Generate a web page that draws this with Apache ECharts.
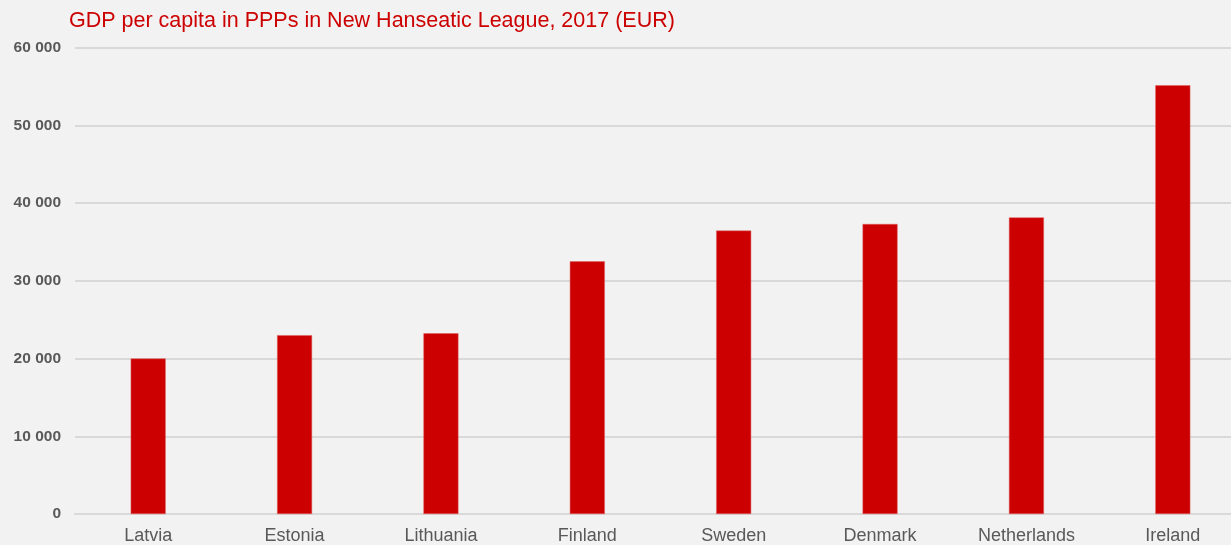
<!DOCTYPE html>
<html>
<head>
<meta charset="utf-8">
<script src="https://cdn.jsdelivr.net/npm/echarts@6/dist/echarts.min.js"></script>
<style>
html,body{margin:0;padding:0;background:#f2f2f2;overflow:hidden;width:1231px;height:545px;}
#chart{width:1246px;height:545px;}
</style>
</head>
<body>
<div id="chart"></div>
<script>
const categories = ["Latvia","Estonia","Lithuania","Finland","Sweden","Denmark","Netherlands","Ireland"];
const gdpValues = [20000, 23000, 23250, 32500, 36450, 37300, 38150, 55150];
const titleText = "GDP per capita in PPPs in New Hanseatic League, 2017 (EUR)";

function fmt(v){ return String(v).replace(/\B(?=(\d{3})+(?!\d))/g, " "); }

const chart = echarts.init(document.getElementById('chart'));
chart.setOption({
  backgroundColor: '#f2f2f2',
  animation: false,
  title: {
    text: titleText,
    left: 64,
    top: 5,
    textStyle: { color: '#cc0000', fontSize: 21.5, fontWeight: 'normal', fontFamily: 'Liberation Sans, Arial, sans-serif' }
  },
  grid: { left: 75, right: 0, top: 47.5, bottom: 31, containLabel: false },
  xAxis: {
    type: 'category',
    data: categories,
    axisLine: { show: true, lineStyle: { color: '#d9d9d9', width: 2 } },
    axisTick: { show: false },
    axisLabel: { color: '#595959', fontSize: 18, margin: 13, fontFamily: 'Liberation Sans, Arial, sans-serif', interval: 0 }
  },
  yAxis: {
    type: 'value',
    min: 0, max: 60000, interval: 10000,
    axisLine: { show: false },
    axisTick: { show: false },
    splitLine: { lineStyle: { color: '#d9d9d9', width: 2 } },
    axisLabel: { color: '#595959', fontSize: 15.5, fontWeight: 'bold', margin: 14, fontFamily: 'Liberation Sans, Arial, sans-serif', formatter: fmt }
  },
  series: [{
    type: 'bar',
    data: gdpValues,
    barWidth: 35,
    itemStyle: { color: '#cc0000', borderColor: '#e06060', borderWidth: 0.5 }
  }]
});
</script>
</body>
</html>
